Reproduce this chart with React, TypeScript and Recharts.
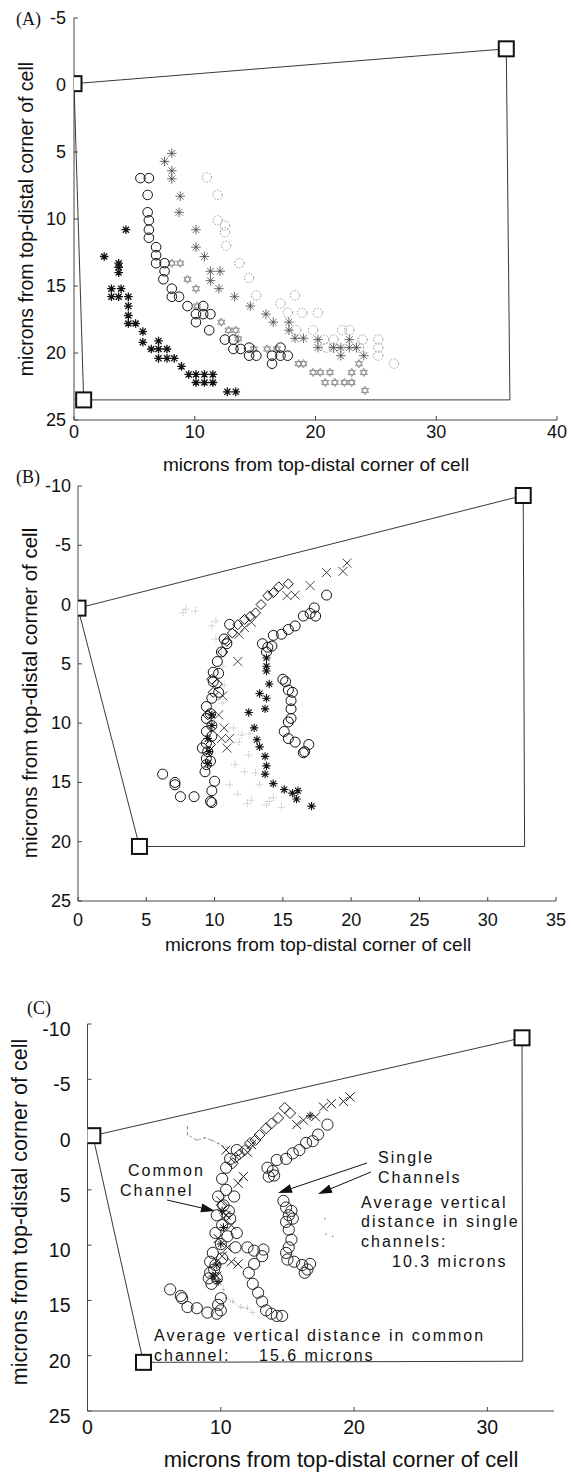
import React from "react";
import { Scatter, ScatterChart, XAxis, YAxis } from "recharts";

type Pt = [number, number];
type Shape = (p: any) => React.ReactElement;

const SANS = "'Liberation Sans', Arial, sans-serif";
const SERIF = "'Liberation Serif', 'Times New Roman', serif";
const INK = "#111";

// ---------- panel A ----------
const A_X_TICKS = [0, 10, 20, 30, 40];
const A_Y_TICKS = [-5, 0, 5, 10, 15, 20, 25];
const A_BOX: Pt[] = [[0, -0.1], [35.8, -2.7], [36.1, 23.5], [0.8, 23.5], [0, -0.1]];
const A_BOX_CORNERS = [true, true, false, true, false];

const A_BOLD_STAR: Pt[] = [
  [2.5, 12.8], [4.3, 10.8], [3.7, 13.3], [3.7, 13.6], [3.7, 14.0], [3.1, 15.2], [3.9, 15.2],
  [3.1, 15.8], [3.7, 15.8], [4.5, 15.8], [4.5, 16.5], [4.5, 17.2], [4.5, 17.8], [5.1, 17.8],
  [5.7, 18.4], [5.7, 19.2], [6.4, 19.7], [7.0, 19.1], [7.0, 19.7], [7.0, 20.4], [7.7, 19.7],
  [7.7, 20.4], [8.3, 20.4], [8.9, 21.0], [9.5, 21.6], [10.1, 21.6], [10.8, 21.6], [11.5, 21.6],
  [10.1, 22.2], [10.8, 22.2], [11.5, 22.2], [12.7, 22.9], [13.4, 22.9],
];
const A_CIRCLE: Pt[] = [
  [5.5, 6.95], [6.2, 6.95], [6.1, 8.2], [6.1, 9.5], [6.2, 10.1], [6.2, 10.8], [6.2, 11.4],
  [6.8, 12.1], [6.8, 12.7], [6.8, 13.3], [7.5, 13.3], [7.5, 13.9], [7.4, 14.5], [8.1, 15.2],
  [8.1, 15.8], [8.7, 15.8], [9.4, 16.5], [10.1, 17.1], [10.7, 16.5], [10.7, 17.1], [11.3, 17.1],
  [10.1, 17.7], [11.2, 18.3], [12.5, 19.0], [13.2, 19.0], [13.2, 19.7], [13.8, 19.7], [14.5, 19.6],
  [14.5, 20.2], [15.1, 20.2], [16.4, 20.2], [16.4, 20.8], [17.1, 19.6], [17.1, 20.2], [17.7, 20.2],
];
const A_THIN_STAR: Pt[] = [
  [8.1, 5.1], [7.5, 5.7], [8.1, 6.4], [8.1, 7.0], [8.8, 8.3], [8.7, 9.5], [10.1, 10.8],
  [10.1, 12.1], [10.8, 12.8], [11.3, 13.9], [12.1, 13.9], [11.3, 14.6], [12.0, 15.2], [13.3, 15.8],
  [14.6, 16.5], [15.9, 17.1], [16.5, 17.7], [17.8, 17.7], [17.8, 18.3], [18.3, 18.9], [19.0, 18.9],
  [20.2, 19.0], [20.2, 19.6], [21.5, 19.6], [22.1, 19.6], [22.1, 20.2], [22.8, 19.0], [22.8, 19.6],
  [23.4, 19.6], [24.0, 20.2],
];
const A_DASH_CIRCLE: Pt[] = [
  [11.0, 6.9], [11.9, 8.2], [11.9, 10.1], [12.5, 10.5], [12.5, 11.0], [12.6, 12.0], [13.7, 13.3],
  [14.5, 14.4], [15.1, 15.7], [17.1, 16.3], [18.3, 15.7], [17.7, 17.0], [18.9, 17.0], [20.2, 17.0],
  [18.4, 18.3], [19.8, 18.3], [20.7, 19.0], [21.5, 19.0], [22.2, 18.3], [22.8, 18.3], [23.9, 19.0],
  [25.2, 19.0], [25.2, 19.6], [25.2, 20.2], [26.5, 20.8], [23.6, 19.6], [21.5, 19.6], [20.9, 19.6],
];
const A_HEXAGRAM: Pt[] = [
  [8.1, 13.3], [8.8, 13.3], [9.4, 14.5], [10.1, 15.2], [10.2, 16.5], [12.2, 17.7], [12.8, 18.3],
  [13.4, 18.3], [13.6, 18.95], [14.9, 19.7], [16.0, 19.7], [16.8, 19.7], [18.6, 20.8], [19.0, 20.8],
  [19.8, 21.45], [20.4, 21.45], [21.2, 21.45], [20.8, 22.2], [21.6, 22.2], [22.4, 22.2], [23.0, 22.2],
  [23.0, 21.45], [23.6, 20.8], [24.0, 21.45], [24.1, 22.8],
];

// ---------- panel B ----------
const B_X_TICKS = [0, 5, 10, 15, 20, 25, 30, 35];
const B_Y_TICKS = [-10, -5, 0, 5, 10, 15, 20, 25];
const B_BOX: Pt[] = [[0, 0.3], [32.6, -9.2], [32.7, 20.4], [4.5, 20.4], [0, 0.3]];
const B_BOX_CORNERS = [true, true, false, true, false];

const B_CIRCLE: Pt[] = [
  [11.1, 1.67], [10.7, 2.9], [10.9, 3.3], [10.5, 4.0], [10.2, 4.8], [9.9, 5.7], [10.3, 5.8],
  [9.9, 6.5], [10.3, 7.4], [9.8, 7.9], [9.4, 8.6], [9.7, 9.2], [9.4, 9.6], [9.8, 10.2], [9.4, 10.7],
  [9.8, 11.1], [9.4, 11.7], [9.1, 12.1], [9.5, 12.4], [9.4, 13.0], [9.7, 13.2], [9.4, 13.5],
  [9.3, 14.1], [6.2, 14.3], [7.1, 15.0], [7.1, 15.2], [7.5, 16.2], [8.5, 16.2], [9.7, 16.6],
  [9.8, 16.7], [9.8, 15.7], [10.0, 14.9], [18.2, -0.8], [17.3, 0.28], [17.4, 0.97], [17.0, 0.75],
  [16.5, 0.97], [15.9, 1.8], [15.4, 2.1], [14.9, 2.5], [14.3, 2.6], [13.5, 3.3], [13.9, 3.6],
  [14.2, 3.5], [13.8, 4.0], [15.0, 6.3], [15.2, 6.5], [15.4, 7.2], [15.7, 7.4], [15.6, 8.1],
  [15.6, 8.8], [15.6, 9.6], [15.4, 9.9], [15.1, 10.7], [15.4, 11.3], [15.9, 11.6], [16.9, 11.8],
  [16.5, 12.5], [16.6, 12.4],
];
const B_DIAMOND: Pt[] = [
  [15.4, -1.75], [14.7, -1.5], [14.3, -1.0], [13.9, -0.75], [13.4, 0], [13.0, 0.7], [12.6, 1.0],
  [12.2, 1.25], [11.7, 1.7], [11.3, 2.4], [10.9, 3.1], [10.6, 4.0], [9.8, 6.3], [10.2, 6.7],
  [9.9, 7.4], [9.5, 9.3], [9.7, 11.8],
];
const B_X: Pt[] = [
  [19.7, -3.5], [19.4, -2.8], [18.2, -2.7], [17.0, -1.6], [15.9, -0.8], [15.3, -0.75], [12.7, 1.5],
  [12.2, 1.95], [11.8, 2.5], [11.7, 4.8], [10.6, 7.7], [10.3, 9.3], [10.7, 10.4], [11.1, 11.3],
  [10.9, 12.1], [10.5, 11.3],
];
const B_STAR: Pt[] = [
  [13.8, 4.5], [13.8, 5.2], [13.8, 5.6], [14.0, 6.7], [13.3, 7.5], [13.8, 7.9], [13.7, 8.8],
  [12.5, 9.1], [12.9, 10.4], [13.1, 11.4], [13.3, 12.0], [13.7, 12.8], [13.8, 13.6], [13.7, 14.3],
  [14.3, 15.1], [15.1, 15.6], [15.7, 15.9], [16.1, 15.7], [16.0, 16.4], [17.1, 17.0], [9.8, 9.3],
  [9.8, 10.2], [9.5, 11.3], [9.6, 12.4], [9.5, 13.4],
];
const B_FAINT: Pt[] = [
  [7.9, 0.4], [8.6, 0.55], [7.7, 0.7], [10.1, 1.4], [9.8, 1.8], [10.1, 2.9], [10.5, 4.0],
  [10.6, 5.2], [10.7, 6.8], [10.6, 8.3], [11.4, 10.4], [11.8, 11.6], [12.5, 12.7], [12.2, 14.1],
  [11.1, 15.2], [11.7, 16.0], [12.7, 16.5], [13.8, 16.9], [14.3, 16.3], [14.9, 17.1], [13.3, 15.2],
  [12.0, 11.0], [12.6, 10.9], [11.5, 13.5], [13.0, 14.2], [14.0, 16.6], [12.4, 16.8],
];

// ---------- panel C ----------
const C_X_TICKS = [0, 10, 20, 30];
const C_Y_TICKS = [-10, -5, 0, 5, 10, 15, 20, 25];
const C_BOX: Pt[] = [[0.4, 0.1], [32.6, -8.75], [32.65, 20.5], [4.2, 20.6], [0.4, 0.1]];
const C_BOX_CORNERS = [true, true, false, true, false];

const C_CIRCLE: Pt[] = [
  [18.0, -0.9], [17.3, 0.0], [16.9, 0.6], [16.4, 0.75], [15.9, 1.4], [15.4, 1.7], [14.9, 2.2],
  [14.2, 2.3], [13.5, 3.0], [13.9, 3.3], [13.6, 3.8], [14.0, 3.7],
  [14.7, 6.0], [14.9, 6.6], [15.3, 6.9], [15.1, 7.3], [14.9, 7.9], [15.4, 7.6], [15.1, 8.6],
  [15.3, 9.5], [15.1, 10.2], [14.9, 10.7], [15.0, 11.3], [15.5, 11.5], [16.1, 11.8], [16.7, 11.7],
  [16.5, 12.2], [16.3, 12.5],
  [11.2, 1.4], [10.7, 2.2], [10.4, 3.0], [10.1, 4.0], [10.4, 5.0], [9.8, 5.6], [10.2, 6.4],
  [9.7, 7.3], [10.7, 7.6], [10.1, 8.2], [9.6, 8.9], [10.5, 9.2], [10.0, 9.9], [9.4, 10.7],
  [10.1, 11.2], [9.6, 11.8], [9.2, 12.5], [9.7, 13.0], [9.3, 13.5], [11.2, 8.9], [11.1, 10.2],
  [9.2, 11.5], [9.1, 13.0], [9.5, 12.2], [10.6, 6.9], [11.0, 5.6],
  [12.0, 10.2], [12.5, 10.5], [13.1, 11.0], [12.5, 11.7], [12.1, 12.5], [12.4, 13.5], [12.8, 14.3],
  [13.1, 15.1], [13.4, 15.9], [13.8, 16.2], [14.2, 16.4], [14.6, 16.4], [13.2, 10.4],
  [6.2, 14.0], [7.0, 14.6], [7.1, 14.8], [7.5, 15.6], [8.2, 15.7], [9.0, 16.1], [9.7, 16.2],
  [10.0, 15.9], [10.0, 14.8], [9.8, 15.4],
];
const C_DIAMOND: Pt[] = [
  [15.2, -1.95], [14.8, -2.4], [14.3, -1.5], [13.8, -1.0], [13.4, -0.57], [12.9, 0.04], [12.6, 0.5],
  [12.2, 0.76], [11.8, 1.4], [11.4, 1.8], [11.1, 2.1], [10.9, 2.6], [10.1, 6.4], [10.4, 7.3],
];
const C_X: Pt[] = [
  [19.7, -3.4], [19.2, -3.0], [18.3, -2.8], [17.7, -2.5], [17.1, -1.6], [16.2, -1.3], [15.7, -0.9],
  [11.3, 4.4], [11.7, 3.8], [10.4, 1.4], [10.0, 6.0], [10.4, 7.3], [10.8, 8.2], [9.8, 9.4],
  [10.5, 10.2], [10.1, 11.0], [10.8, 11.5], [11.3, 11.7], [9.7, 12.8], [12.3, 0.9], [12.0, 1.6],
];
const C_STAR: Pt[] = [[16.7, -1.7], [10.1, 6.9], [10.2, 8.4], [10.0, 9.9], [9.7, 11.8], [9.4, 12.8], [9.8, 13.3]];
const C_FAINT_PATH: Pt[] = [[7.5, -0.7], [7.5, 0.0], [8.2, 0.5], [8.8, 0.3], [9.3, 0.5], [9.8, 0.8], [10.5, 1.2]];
const C_FAINT_LOW: Pt[] = [[10.2, 14.0], [10.4, 14.8], [10.9, 15.1], [11.5, 15.6], [12.0, 15.7], [12.4, 16.1]];
const C_FAINT_DOTS: Pt[] = [[17.8, 7.6], [18.4, 9.2], [17.9, 9.0]];

const AXIS_TITLE = "microns from top-distal corner of cell";

// ---------- markers ----------
const ring = (r: number, stroke: string, w = 1, dash?: string): Shape => (p) => (
  <circle cx={p.cx} cy={p.cy} r={r} fill="none" stroke={stroke} strokeWidth={w} strokeDasharray={dash} />
);
const asterisk = (r: number, stroke: string, w = 1): Shape => (p) => {
  const { cx, cy } = p;
  const d = r * 0.707;
  return (
    <path
      d={`M${cx - r},${cy}H${cx + r}M${cx},${cy - r}V${cy + r}M${cx - d},${cy - d}L${cx + d},${cy + d}M${cx - d},${cy + d}L${cx + d},${cy - d}`}
      stroke={stroke} strokeWidth={w} fill="none"
    />
  );
};
const cross = (r: number, stroke: string, w = 1): Shape => (p) => {
  const { cx, cy } = p;
  return <path d={`M${cx - r},${cy - r}L${cx + r},${cy + r}M${cx - r},${cy + r}L${cx + r},${cy - r}`} stroke={stroke} strokeWidth={w} />;
};
const plus = (r: number, stroke: string, w = 1, dash?: string): Shape => (p) => {
  const { cx, cy } = p;
  return <path d={`M${cx - r},${cy}H${cx + r}M${cx},${cy - r}V${cy + r}`} stroke={stroke} strokeWidth={w} strokeDasharray={dash} />;
};
const diamond = (r: number, stroke: string, w = 1): Shape => (p) => {
  const { cx, cy } = p;
  return <path d={`M${cx},${cy - r}L${cx + r},${cy}L${cx},${cy + r}L${cx - r},${cy}Z`} fill="none" stroke={stroke} strokeWidth={w} />;
};
const hexagram = (r: number, stroke: string, w = 1): Shape => (p) => {
  const { cx, cy } = p;
  const tri = (a0: number) =>
    [0, 120, 240]
      .map((a, i) => {
        const t = ((a + a0) * Math.PI) / 180;
        return `${i ? "L" : "M"}${cx + r * Math.cos(t)},${cy + r * Math.sin(t)}`;
      })
      .join("") + "Z";
  return <path d={tri(-90) + tri(90)} fill="none" stroke={stroke} strokeWidth={w} />;
};
const dot = (r: number, fill: string): Shape => (p) => <circle cx={p.cx} cy={p.cy} r={r} fill={fill} />;
const corner: Shape = (p) =>
  p.payload?.corner ? (
    <rect x={p.cx - 7.5} y={p.cy - 7.5} width={15} height={15} fill="#fff" stroke={INK} strokeWidth={2} />
  ) : (
    <g />
  );

type Series = { data: Pt[]; shape: Shape; line?: any };

interface PanelProps {
  top: number;
  height: number;
  plot: { left: number; right: number; top: number; bottom: number };
  xDomain: [number, number];
  yDomain: [number, number];
  xTicks: number[];
  yTicks: number[];
  tickFont: number;
  xTickGap: number;
  yTickGap: number;
  yTickDy?: number;
  box: Pt[];
  boxCorners: boolean[];
  series: Series[];
}

const toRows = (pts: Pt[]) => pts.map(([x, y]) => ({ x, y }));

function Panel(props: PanelProps) {
  const { top, height, plot, xDomain, yDomain, xTicks, yTicks, tickFont, xTickGap, yTickGap, yTickDy = 0 } = props;
  const boxRows = props.box.map(([x, y], i) => ({ x, y, corner: props.boxCorners[i] }));
  const tickText = (anchor: "middle" | "end", dy = 0) => (p: any) => (
    <text x={p.x} y={p.y + dy} textAnchor={anchor} dominantBaseline="central" fontFamily={SANS} fontSize={tickFont} fill={INK}>
      {p.payload.value}
    </text>
  );
  return (
    <div style={{ position: "absolute", left: 0, top }}>
      <ScatterChart width={572} height={height} margin={{ top: plot.top, right: 572 - plot.right, bottom: 0, left: 0 }}>
        <XAxis type="number" dataKey="x" domain={xDomain} ticks={xTicks} interval={0} allowDataOverflow
          height={height - plot.bottom} tickSize={-4} tickMargin={xTickGap} tick={tickText("middle")}
          stroke="#444" />
        <YAxis type="number" dataKey="y" domain={yDomain} ticks={yTicks} interval={0} allowDataOverflow reversed
          width={plot.left} tickSize={-4} tickMargin={yTickGap} tick={tickText("end", yTickDy)} stroke="#444" />
        <XAxis xAxisId="t" orientation="top" type="number" domain={xDomain} ticks={xTicks} interval={0}
          allowDataOverflow height={0} tickSize={-4} tick={false} stroke="#444" />
        <YAxis yAxisId="r" orientation="right" type="number" domain={yDomain} ticks={yTicks} interval={0}
          allowDataOverflow reversed width={0} tickSize={-4} tick={false} stroke="#444" />
        <Scatter data={boxRows} line={{ stroke: "#222", strokeWidth: 0.9 }} shape={corner} isAnimationActive={false} />
        {props.series.map((s, i) => (
          <Scatter key={i} data={toRows(s.data)} shape={s.shape} line={s.line} isAnimationActive={false} />
        ))}
      </ScatterChart>
    </div>
  );
}

function Arrow({ x1, y1, x2, y2 }: { x1: number; y1: number; x2: number; y2: number }) {
  const a = Math.atan2(y2 - y1, x2 - x1);
  const L = 14, W = 4.5;
  const bx = x2 - L * Math.cos(a), by = y2 - L * Math.sin(a);
  const nx = -Math.sin(a) * W, ny = Math.cos(a) * W;
  return (
    <g>
      <line x1={x1} y1={y1} x2={bx} y2={by} stroke={INK} strokeWidth={1} />
      <polygon points={`${x2},${y2} ${bx + nx},${by + ny} ${bx - nx},${by - ny}`} fill={INK} />
    </g>
  );
}

export default function App() {
  const note = { fontFamily: SANS, fontSize: 16, letterSpacing: 2, fill: INK };
  return (
    <div style={{ position: "absolute", left: 0, top: 0, width: 572, height: 1472, background: "#fff" }}>
      <Panel
        top={0} height={452}
        plot={{ left: 74, right: 557, top: 18, bottom: 420 }}
        xDomain={[0, 40]} yDomain={[-5, 25]} xTicks={A_X_TICKS} yTicks={A_Y_TICKS}
        tickFont={18} xTickGap={16} yTickGap={12}
        box={A_BOX} boxCorners={A_BOX_CORNERS}
        series={[
          { data: A_DASH_CIRCLE, shape: ring(4.7, "#9a9a9a", 1, "1.6 1.4") },
          { data: A_HEXAGRAM, shape: hexagram(4.2, "#8a8a8a", 0.9) },
          { data: A_THIN_STAR, shape: asterisk(4.8, "#444", 0.8) },
          { data: A_CIRCLE, shape: ring(4.8, INK, 1) },
          { data: A_BOLD_STAR, shape: asterisk(4.3, INK, 1.3) },
        ]}
      />
      <Panel
        top={470} height={475}
        plot={{ left: 78, right: 556, top: 16, bottom: 431 }}
        xDomain={[0, 35]} yDomain={[-10, 25]} xTicks={B_X_TICKS} yTicks={B_Y_TICKS}
        tickFont={18} xTickGap={23} yTickGap={11}
        box={B_BOX} boxCorners={B_BOX_CORNERS}
        series={[
          { data: B_FAINT, shape: plus(4, "#b5b5b5", 1, "1 1") },
          { data: B_X, shape: cross(4.5, "#333", 0.9) },
          { data: B_DIAMOND, shape: diamond(5, INK, 1) },
          { data: B_STAR, shape: asterisk(4.2, INK, 1.1) },
          { data: B_CIRCLE, shape: ring(5, INK, 1) },
        ]}
      />
      <Panel
        top={1000} height={448}
        plot={{ left: 87.5, right: 554, top: 24, bottom: 411 }}
        xDomain={[0, 35]} yDomain={[-10, 25]} xTicks={C_X_TICKS} yTicks={C_Y_TICKS}
        tickFont={19.5} xTickGap={20} yTickGap={21} yTickDy={5}
        box={C_BOX} boxCorners={C_BOX_CORNERS}
        series={[
          { data: C_FAINT_PATH, shape: dot(0.8, "#888"), line: { stroke: "#888", strokeWidth: 0.8, strokeDasharray: "3 2" } },
          { data: C_FAINT_LOW, shape: plus(3, "#999", 0.8, "1 1"), line: { stroke: "#aaa", strokeWidth: 0.7, strokeDasharray: "2 2" } },
          { data: C_FAINT_DOTS, shape: dot(0.9, "#999") },
          { data: C_X, shape: cross(4.5, "#222", 1) },
          { data: C_DIAMOND, shape: diamond(5.5, "#222", 1) },
          { data: C_STAR, shape: asterisk(4.2, INK, 1) },
          { data: C_CIRCLE, shape: ring(5.6, "#1a1a1a", 0.95) },
        ]}
      />

      <svg width={572} height={1472} style={{ position: "absolute", left: 0, top: 0, pointerEvents: "none" }}>
        <g fontFamily={SERIF} fontSize={18} fill={INK}>
          <text x={16} y={25}>(A)</text>
          <text x={16} y={483}>(B)</text>
          <text x={27} y={1014}>(C)</text>
        </g>
        <g fontFamily={SANS} fill={INK} textAnchor="middle">
          <text x={316} y={471} fontSize={19}>{AXIS_TITLE}</text>
          <text x={318} y={951} fontSize={19}>{AXIS_TITLE}</text>
          <text x={341} y={1467} fontSize={22}>{AXIS_TITLE}</text>
          <text transform="translate(33,219) rotate(-90)" fontSize={19.5}>{AXIS_TITLE}</text>
          <text transform="translate(37,693) rotate(-90)" fontSize={20.5}>{AXIS_TITLE}</text>
          <text transform="translate(27,1212) rotate(-90)" fontSize={21.5}>{AXIS_TITLE}</text>
        </g>
        <g {...note}>
          <text x={128} y={1176}>Common</text>
          <text x={120} y={1196}>Channel</text>
          <text x={378} y={1163}>Single</text>
          <text x={378} y={1183}>Channels</text>
          <text x={361} y={1208}>Average vertical</text>
          <text x={361} y={1227}>distance in single</text>
          <text x={361} y={1247}>channels:</text>
          <text x={392} y={1267}>10.3 microns</text>
          <text x={154} y={1341}>Average vertical distance in common</text>
          <text x={154} y={1361}>channel:</text>
          <text x={259} y={1361}>15.6 microns</text>
        </g>
        <Arrow x1={167} y1={1200} x2={215} y2={1211} />
        <Arrow x1={367} y1={1163} x2={278} y2={1193} />
        <Arrow x1={371} y1={1172} x2={318} y2={1194} />
      </svg>
    </div>
  );
}
